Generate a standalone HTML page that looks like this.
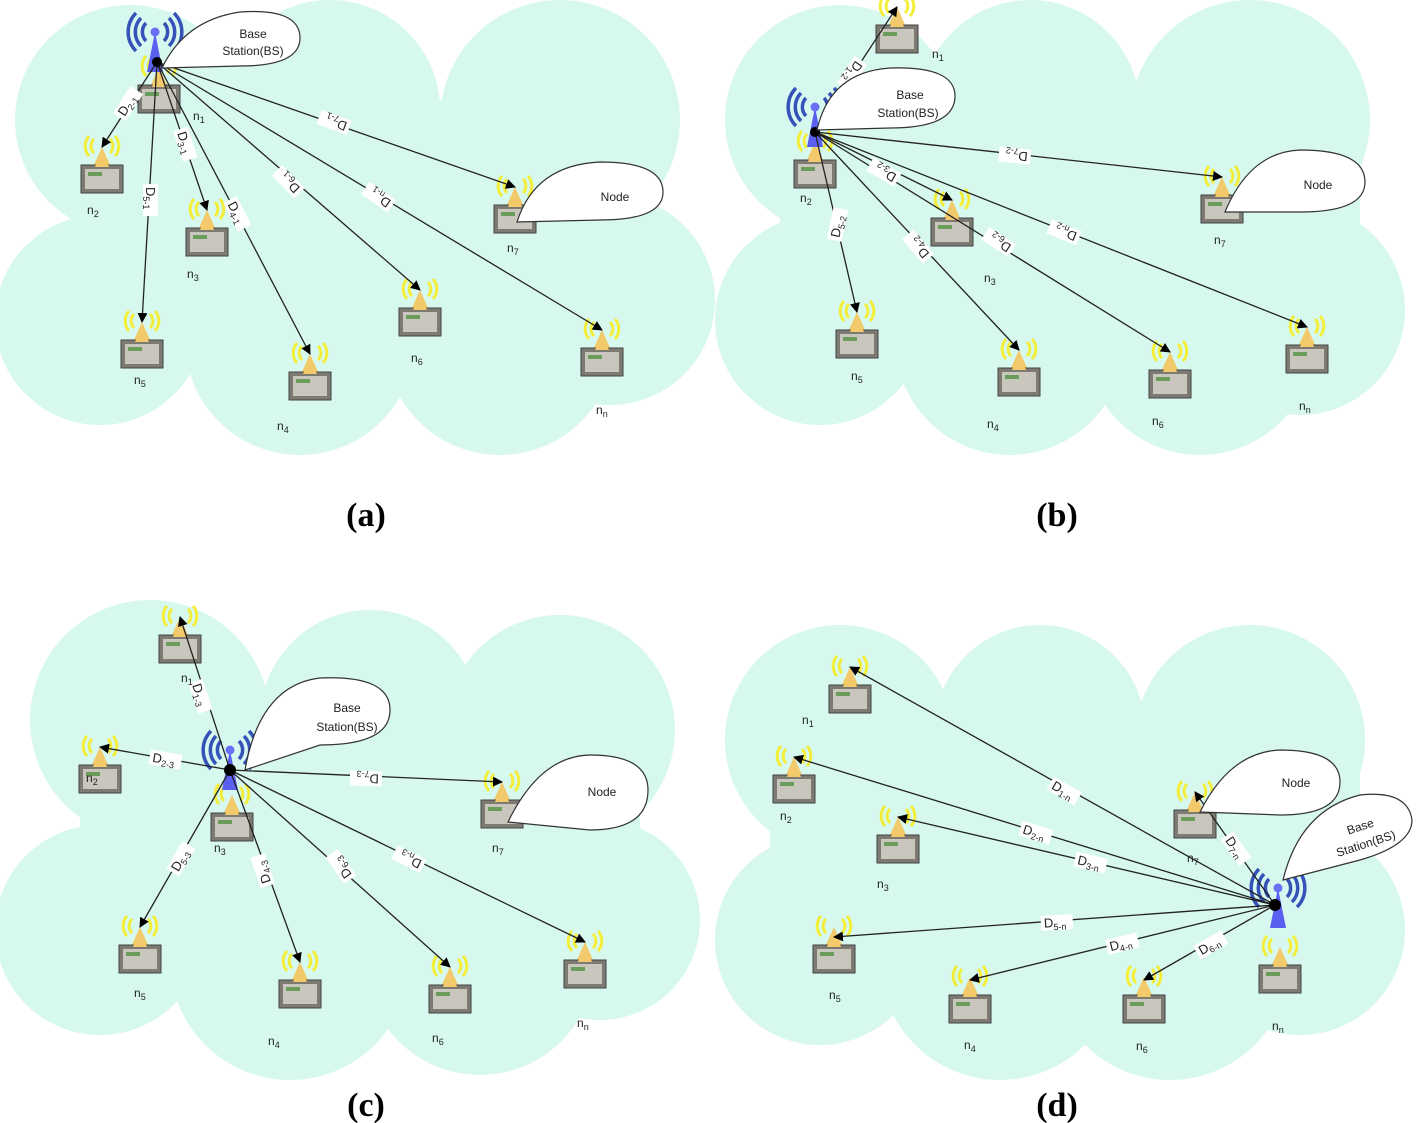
<!DOCTYPE html>
<html><head><meta charset="utf-8"><style>
html,body{margin:0;padding:0;background:#fff;}
svg{display:block;}
.lbl{font-family:"Liberation Sans",sans-serif;font-size:12px;fill:#222;}
.dl{font-family:"Liberation Sans",sans-serif;font-size:13px;fill:#222;}
.cap{font-family:"Liberation Serif",serif;font-size:34px;font-weight:bold;fill:#000;}
</style></head><body>
<svg width="1418" height="1123" viewBox="0 0 1418 1123" xmlns="http://www.w3.org/2000/svg">
<defs>
<marker id="ar" markerWidth="10" markerHeight="10" refX="9" refY="5" orient="auto" markerUnits="userSpaceOnUse"><path d="M0,0 L10,5 L0,10 Z" fill="#000"/></marker>
<g id="nd">
 <path d="M-8,-8 A10,10 0 0 0 -8,6 M8,-8 A10,10 0 0 1 8,6 M-13,-11 A15,15 0 0 0 -13,9 M13,-11 A15,15 0 0 1 13,9" stroke="#f3ee3a" stroke-width="3" fill="none"/>
 <path d="M0,0 L-9,20 L9,20 Z" fill="#f2c96b"/>
 <rect x="-21" y="18" width="42" height="28" fill="#7d7a72" stroke="#444" stroke-width="1"/>
 <rect x="-17" y="22" width="34" height="20" fill="#c9c6bd"/>
 <rect x="-14" y="25" width="14" height="4" fill="#6a9d5b"/>
 <path d="M0,0 L-7,20 L7,20 Z" fill="#f2c96b"/>
</g>
<g id="bs">
 <path d="M-9,-9 A13,13 0 0 0 -9,9 M9,-9 A13,13 0 0 1 9,9 M-14,-14 A20,20 0 0 0 -14,14 M14,-14 A20,20 0 0 1 14,14 M-19,-19 A27,27 0 0 0 -19,19 M19,-19 A27,27 0 0 1 19,19" stroke="#3552b8" stroke-width="3.5" fill="none"/>
 <path d="M0,0 L-8,40 L8,40 Z" fill="#5b5ff0"/>
 <circle cx="0" cy="0" r="4.5" fill="#6b6ff5"/>
</g>
</defs>

<!-- clouds -->
<g fill="#d6f8ef">
 <circle cx="130" cy="120" r="115"/><circle cx="330" cy="110" r="110"/><circle cx="560" cy="120" r="120"/>
 <circle cx="610" cy="300" r="105"/><circle cx="100" cy="320" r="105"/><circle cx="300" cy="340" r="115"/><circle cx="500" cy="340" r="115"/>
 <rect x="80" y="100" width="560" height="260"/>

 <circle cx="840" cy="120" r="115"/><circle cx="1030" cy="110" r="110"/><circle cx="1250" cy="120" r="120"/>
 <circle cx="1300" cy="310" r="105"/><circle cx="820" cy="320" r="105"/><circle cx="1010" cy="340" r="115"/><circle cx="1200" cy="340" r="115"/>
 <rect x="780" y="100" width="580" height="270"/>

 <circle cx="150" cy="720" r="120"/><circle cx="370" cy="720" r="110"/><circle cx="560" cy="730" r="115"/>
 <circle cx="600" cy="920" r="100"/><circle cx="100" cy="930" r="105"/><circle cx="290" cy="960" r="120"/><circle cx="480" cy="960" r="115"/>
 <rect x="80" y="700" width="560" height="260"/>

 <circle cx="840" cy="740" r="115"/><circle cx="1040" cy="730" r="105"/><circle cx="1250" cy="740" r="115"/>
 <circle cx="1300" cy="930" r="105"/><circle cx="820" cy="940" r="105"/><circle cx="1000" cy="960" r="120"/><circle cx="1170" cy="960" r="120"/>
 <rect x="770" y="720" width="590" height="270"/>
</g>

<!-- panel a nodes -->
<use href="#nd" x="102" y="147"/><use href="#nd" x="207" y="210"/><use href="#nd" x="142" y="322"/>
<use href="#nd" x="310" y="354"/><use href="#nd" x="420" y="290"/><use href="#nd" x="515" y="187"/><use href="#nd" x="602" y="330"/>
<use href="#nd" x="159" y="67"/>
<use href="#bs" x="155" y="32"/>
<!-- panel b nodes -->
<use href="#nd" x="897" y="7"/><use href="#nd" x="952" y="200"/><use href="#nd" x="857" y="312"/><use href="#nd" x="1019" y="350"/>
<use href="#nd" x="1170" y="352"/><use href="#nd" x="1222" y="177"/><use href="#nd" x="1307" y="327"/>
<use href="#nd" x="815" y="142"/>
<use href="#bs" x="815" y="107"/>
<!-- panel c nodes -->
<use href="#nd" x="180" y="617"/><use href="#nd" x="100" y="747"/><use href="#nd" x="502" y="782"/><use href="#nd" x="140" y="927"/>
<use href="#nd" x="300" y="962"/><use href="#nd" x="450" y="967"/><use href="#nd" x="585" y="942"/>
<use href="#nd" x="232" y="795"/>
<use href="#bs" x="230" y="750"/>
<!-- panel d nodes -->
<use href="#nd" x="850" y="667"/><use href="#nd" x="794" y="757"/><use href="#nd" x="898" y="817"/><use href="#nd" x="1195" y="792"/>
<use href="#nd" x="834" y="927"/><use href="#nd" x="970" y="977"/><use href="#nd" x="1144" y="977"/>
<use href="#nd" x="1280" y="947"/>
<use href="#bs" x="1278" y="888"/>

<!-- connectors -->
<g stroke="#222" stroke-width="1.3" fill="none" marker-end="url(#ar)">
 <line x1="157" y1="62" x2="102" y2="147"/><line x1="157" y1="62" x2="142" y2="322"/><line x1="157" y1="62" x2="207" y2="210"/>
 <line x1="157" y1="62" x2="310" y2="354"/><line x1="157" y1="62" x2="420" y2="290"/><line x1="157" y1="62" x2="515" y2="187"/><line x1="157" y1="62" x2="602" y2="330"/>

 <line x1="815" y1="132" x2="897" y2="7"/><line x1="815" y1="132" x2="1222" y2="177"/><line x1="815" y1="132" x2="952" y2="200"/>
 <line x1="815" y1="132" x2="857" y2="312"/><line x1="815" y1="132" x2="1019" y2="350"/><line x1="815" y1="132" x2="1170" y2="352"/><line x1="815" y1="132" x2="1307" y2="327"/>

 <line x1="230" y1="770" x2="180" y2="617"/><line x1="230" y1="770" x2="100" y2="747"/><line x1="230" y1="770" x2="502" y2="782"/>
 <line x1="230" y1="770" x2="140" y2="927"/><line x1="230" y1="770" x2="300" y2="962"/><line x1="230" y1="770" x2="450" y2="967"/><line x1="230" y1="770" x2="585" y2="942"/>

 <line x1="1275" y1="905" x2="850" y2="667"/><line x1="1275" y1="905" x2="794" y2="757"/><line x1="1275" y1="905" x2="898" y2="817"/>
 <line x1="1275" y1="905" x2="834" y2="937"/><line x1="1275" y1="905" x2="970" y2="980"/><line x1="1275" y1="905" x2="1144" y2="980"/><line x1="1275" y1="905" x2="1195" y2="792"/>
</g>
<g fill="#000">
 <circle cx="157" cy="62" r="5"/><circle cx="815" cy="132" r="5"/><circle cx="230" cy="770" r="6"/><circle cx="1275" cy="905" r="6"/>
</g>

<!-- distance labels -->
<g class="dl">
 <g transform="translate(130,105) rotate(-57)"><rect x="-16" y="-10" width="32" height="15" fill="#fff"/><text x="-13" y="2">D<tspan font-size="9" dy="3">2-1</tspan></text></g>
 <g transform="translate(148,200) rotate(90)"><rect x="-16" y="-10" width="32" height="15" fill="#fff"/><text x="-13" y="2">D<tspan font-size="9" dy="3">5-1</tspan></text></g>
 <g transform="translate(183,145) rotate(72)"><rect x="-16" y="-10" width="32" height="15" fill="#fff"/><text x="-13" y="2">D<tspan font-size="9" dy="3">3-1</tspan></text></g>
 <g transform="translate(235,215) rotate(63)"><rect x="-16" y="-10" width="32" height="15" fill="#fff"/><text x="-13" y="2">D<tspan font-size="9" dy="3">4-1</tspan></text></g>
 <g transform="translate(290,180) rotate(225)"><rect x="-16" y="-10" width="32" height="15" fill="#fff"/><text x="-13" y="2">D<tspan font-size="9" dy="3">6-1</tspan></text></g>
 <g transform="translate(335,120) rotate(200)"><rect x="-16" y="-10" width="32" height="15" fill="#fff"/><text x="-13" y="2">D<tspan font-size="9" dy="3">7-1</tspan></text></g>
 <g transform="translate(380,195) rotate(215)"><rect x="-16" y="-10" width="32" height="15" fill="#fff"/><text x="-13" y="2">D<tspan font-size="9" dy="3">n-1</tspan></text></g>

 <g transform="translate(850,72) rotate(124)"><rect x="-16" y="-10" width="32" height="15" fill="#fff"/><text x="-13" y="2">D<tspan font-size="9" dy="3">1-2</tspan></text></g>
 <g transform="translate(1015,153) rotate(186)"><rect x="-16" y="-10" width="32" height="15" fill="#fff"/><text x="-13" y="2">D<tspan font-size="9" dy="3">7-2</tspan></text></g>
 <g transform="translate(885,170) rotate(210)"><rect x="-16" y="-10" width="32" height="15" fill="#fff"/><text x="-13" y="2">D<tspan font-size="9" dy="3">3-2</tspan></text></g>
 <g transform="translate(840,225) rotate(-78)"><rect x="-16" y="-10" width="32" height="15" fill="#fff"/><text x="-13" y="2">D<tspan font-size="9" dy="3">5-2</tspan></text></g>
 <g transform="translate(920,245) rotate(230)"><rect x="-16" y="-10" width="32" height="15" fill="#fff"/><text x="-13" y="2">D<tspan font-size="9" dy="3">4-2</tspan></text></g>
 <g transform="translate(1000,240) rotate(213)"><rect x="-16" y="-10" width="32" height="15" fill="#fff"/><text x="-13" y="2">D<tspan font-size="9" dy="3">6-2</tspan></text></g>
 <g transform="translate(1065,230) rotate(202)"><rect x="-16" y="-10" width="32" height="15" fill="#fff"/><text x="-13" y="2">D<tspan font-size="9" dy="3">n-2</tspan></text></g>

 <g transform="translate(198,697) rotate(72)"><rect x="-16" y="-10" width="32" height="15" fill="#fff"/><text x="-13" y="2">D<tspan font-size="9" dy="3">1-3</tspan></text></g>
 <g transform="translate(165,762) rotate(10)"><rect x="-16" y="-10" width="32" height="15" fill="#fff"/><text x="-13" y="2">D<tspan font-size="9" dy="3">2-3</tspan></text></g>
 <g transform="translate(366,776) rotate(182)"><rect x="-16" y="-10" width="32" height="15" fill="#fff"/><text x="-13" y="2">D<tspan font-size="9" dy="3">7-3</tspan></text></g>
 <g transform="translate(183,860) rotate(-60)"><rect x="-16" y="-10" width="32" height="15" fill="#fff"/><text x="-13" y="2">D<tspan font-size="9" dy="3">5-3</tspan></text></g>
 <g transform="translate(265,870) rotate(252)"><rect x="-16" y="-10" width="32" height="15" fill="#fff"/><text x="-13" y="2">D<tspan font-size="9" dy="3">4-3</tspan></text></g>
 <g transform="translate(343,865) rotate(235)"><rect x="-16" y="-10" width="32" height="15" fill="#fff"/><text x="-13" y="2">D<tspan font-size="9" dy="3">6-3</tspan></text></g>
 <g transform="translate(410,857) rotate(206)"><rect x="-16" y="-10" width="32" height="15" fill="#fff"/><text x="-13" y="2">D<tspan font-size="9" dy="3">n-3</tspan></text></g>

 <g transform="translate(1063,793) rotate(30)"><rect x="-16" y="-10" width="32" height="15" fill="#fff"/><text x="-13" y="2">D<tspan font-size="9" dy="3">1-n</tspan></text></g>
 <g transform="translate(1035,835) rotate(17)"><rect x="-16" y="-10" width="32" height="15" fill="#fff"/><text x="-13" y="2">D<tspan font-size="9" dy="3">2-n</tspan></text></g>
 <g transform="translate(1090,865) rotate(13)"><rect x="-16" y="-10" width="32" height="15" fill="#fff"/><text x="-13" y="2">D<tspan font-size="9" dy="3">3-n</tspan></text></g>
 <g transform="translate(1057,925) rotate(-3)"><rect x="-16" y="-10" width="32" height="15" fill="#fff"/><text x="-13" y="2">D<tspan font-size="9" dy="3">5-n</tspan></text></g>
 <g transform="translate(1123,946) rotate(-14)"><rect x="-16" y="-10" width="32" height="15" fill="#fff"/><text x="-13" y="2">D<tspan font-size="9" dy="3">4-n</tspan></text></g>
 <g transform="translate(1212,947) rotate(-30)"><rect x="-16" y="-10" width="32" height="15" fill="#fff"/><text x="-13" y="2">D<tspan font-size="9" dy="3">6-n</tspan></text></g>
 <g transform="translate(1234,850) rotate(55)"><rect x="-16" y="-10" width="32" height="15" fill="#fff"/><text x="-13" y="2">D<tspan font-size="9" dy="3">7-n</tspan></text></g>
</g>

<!-- callouts -->
<g fill="#fff" stroke="#333" stroke-width="1.2">
 <path d="M162,68 Q185,20 240,12 Q300,8 300,38 Q300,66 240,66 Z"/>
 <path d="M517,222 Q535,165 600,162 Q663,162 663,192 Q663,220 600,220 Z"/>
 <path d="M817,130 Q830,72 890,68 Q955,66 955,96 Q955,128 890,128 Z"/>
 <path d="M1225,212 Q1250,152 1300,150 Q1365,150 1365,182 Q1365,212 1300,212 Z"/>
 <path d="M245,770 Q260,685 320,678 Q390,675 390,710 Q390,745 320,745 Z"/>
 <path d="M508,822 Q540,756 590,755 Q648,755 648,790 Q648,830 590,830 Z"/>
 <path d="M1200,812 Q1230,752 1280,750 Q1340,750 1340,782 Q1340,815 1280,815 Z"/>
 <path d="M1283,880 Q1300,810 1360,795 Q1408,790 1412,820 Q1412,845 1360,860 Z"/>
</g>
<g class="lbl" text-anchor="middle">
 <text x="253" y="38">Base</text><text x="253" y="55">Station(BS)</text>
 <text x="615" y="201">Node</text>
 <text x="910" y="99">Base</text><text x="908" y="117">Station(BS)</text>
 <text x="1318" y="189">Node</text>
 <text x="347" y="712">Base</text><text x="347" y="731">Station(BS)</text>
 <text x="602" y="796">Node</text>
 <text x="1296" y="787">Node</text>
 <g transform="translate(1364,838) rotate(-18)"><text x="0" y="-8">Base</text><text x="0" y="10">Station(BS)</text></g>
</g>

<!-- node labels -->
<g class="lbl" font-size="13">
 <text x="193" y="120">n<tspan font-size="9" dy="3">1</tspan></text>
 <text x="87" y="214">n<tspan font-size="9" dy="3">2</tspan></text>
 <text x="187" y="278">n<tspan font-size="9" dy="3">3</tspan></text>
 <text x="134" y="384">n<tspan font-size="9" dy="3">5</tspan></text>
 <text x="277" y="430">n<tspan font-size="9" dy="3">4</tspan></text>
 <text x="411" y="362">n<tspan font-size="9" dy="3">6</tspan></text>
 <text x="507" y="252">n<tspan font-size="9" dy="3">7</tspan></text>
 <text x="596" y="414">n<tspan font-size="9" dy="3">n</tspan></text>

 <text x="932" y="58">n<tspan font-size="9" dy="3">1</tspan></text>
 <text x="800" y="202">n<tspan font-size="9" dy="3">2</tspan></text>
 <text x="984" y="282">n<tspan font-size="9" dy="3">3</tspan></text>
 <text x="851" y="380">n<tspan font-size="9" dy="3">5</tspan></text>
 <text x="987" y="428">n<tspan font-size="9" dy="3">4</tspan></text>
 <text x="1152" y="425">n<tspan font-size="9" dy="3">6</tspan></text>
 <text x="1214" y="244">n<tspan font-size="9" dy="3">7</tspan></text>
 <text x="1299" y="410">n<tspan font-size="9" dy="3">n</tspan></text>

 <text x="181" y="682">n<tspan font-size="9" dy="3">1</tspan></text>
 <text x="86" y="782">n<tspan font-size="9" dy="3">2</tspan></text>
 <text x="214" y="852">n<tspan font-size="9" dy="3">3</tspan></text>
 <text x="492" y="852">n<tspan font-size="9" dy="3">7</tspan></text>
 <text x="134" y="997">n<tspan font-size="9" dy="3">5</tspan></text>
 <text x="268" y="1045">n<tspan font-size="9" dy="3">4</tspan></text>
 <text x="432" y="1042">n<tspan font-size="9" dy="3">6</tspan></text>
 <text x="577" y="1027">n<tspan font-size="9" dy="3">n</tspan></text>

 <text x="802" y="724">n<tspan font-size="9" dy="3">1</tspan></text>
 <text x="780" y="820">n<tspan font-size="9" dy="3">2</tspan></text>
 <text x="877" y="888">n<tspan font-size="9" dy="3">3</tspan></text>
 <text x="1187" y="862">n<tspan font-size="9" dy="3">7</tspan></text>
 <text x="829" y="999">n<tspan font-size="9" dy="3">5</tspan></text>
 <text x="964" y="1049">n<tspan font-size="9" dy="3">4</tspan></text>
 <text x="1136" y="1050">n<tspan font-size="9" dy="3">6</tspan></text>
 <text x="1272" y="1030">n<tspan font-size="9" dy="3">n</tspan></text>
</g>

<!-- captions -->
<g class="cap" text-anchor="middle">
 <text x="366" y="526">(a)</text><text x="1057" y="526">(b)</text>
 <text x="366" y="1116">(c)</text><text x="1057" y="1116">(d)</text>
</g>
</svg>
</body></html>
